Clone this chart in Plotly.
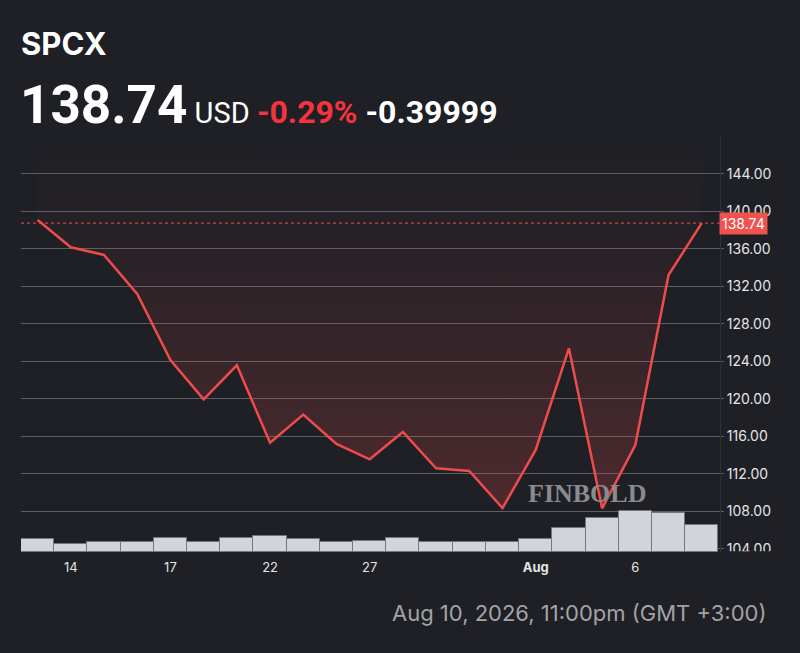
import plotly.graph_objects as go

# ---------------- data ----------------
dates = ["Jul 13", "Jul 14", "Jul 15", "Jul 16", "Jul 17", "Jul 20", "Jul 21",
         "Jul 22", "Jul 23", "Jul 24", "Jul 27", "Jul 28", "Jul 29", "Jul 30",
         "Jul 31", "Aug 3", "Aug 4", "Aug 5", "Aug 6", "Aug 7", "Aug 10"]
prices = [139.07, 136.16, 135.34, 131.18, 124.14, 119.95, 123.57, 115.32, 118.31,
          115.18, 113.55, 116.46, 112.59, 112.30, 108.35, 114.54, 125.39, 108.32,
          115.07, 133.20, 138.74]
volumes = [1270, 830, 1030, 1030, 1400, 1030, 1400, 1570, 1300, 1030, 1100, 1370,
           970, 970, 1030, 1270, 2370, 3400, 4130, 3930, 2730]  # thousands
tick_dates = ["Jul 14", "Jul 17", "Jul 22", "Jul 27", "Aug 3", "Aug 6"]
tick_labels = ["14", "17", "22", "27", "<b>Aug</b>", "6"]
y_ticks = [104, 108, 112, 116, 120, 124, 128, 132, 136, 140, 144]

ticker = "SPCX"
last_price = prices[-1]
pct_change = "-0.29%"
abs_change = "-0.39999"
timestamp = "Aug 10, 2026, 11:00pm (GMT +3:00)"

# ---------------- layout geometry ----------------
W, H = 800, 653
L, R, T, B = 21, 720, 136, 552
Y_RANGE = [103.66, 148.03]
X_RANGE = [-0.5, 20.55]
V_RANGE = [0, 41600]

def px(x):
    return (x - L) / (R - L)

def py(y):
    return (B - y) / (B - T)

BG = "#1e2025"
RED = "#f04b4c"
GRID = "#5c5e63"

fig = go.Figure()

# volume bars (secondary axis)
fig.add_trace(go.Bar(
    x=dates, y=volumes, yaxis="y2",
    marker=dict(color="#d3d4da", line=dict(color="#75777d", width=1)),
    hoverinfo="skip", showlegend=False,
))

# top boundary for fill (plot top)
fig.add_trace(go.Scatter(
    x=dates, y=[Y_RANGE[1]] * len(dates), mode="lines",
    line=dict(width=0, color="rgba(0,0,0,0)"), hoverinfo="skip", showlegend=False,
))

# price line with gradient fill above it
fig.add_trace(go.Scatter(
    x=dates, y=prices, mode="lines",
    line=dict(color=RED, width=2.5),
    fill="tonexty",
    fillgradient=dict(type="vertical",
                      colorscale=[[0, "rgba(240,75,76,0.24)"], [0.75, "rgba(240,75,76,0.04)"],
                                  [1, "rgba(240,75,76,0.0)"]],
                      start=106, stop=Y_RANGE[1]),
    hoverinfo="skip", showlegend=False,
))

annotations = [
    dict(text="<b>" + ticker + "</b>", xref="paper", yref="paper",
         x=px(19), y=py(44), xanchor="left", yanchor="middle", showarrow=False,
         font=dict(family="Inter", size=31, color="#ffffff", weight=800)),
    dict(text=("<span style='font-size:53px'><b>%s</b></span>"
               "<span style='font-size:29px'> USD </span>"
               "<span style='color:#f5333d'><b>%s</b></span>"
               "<b> %s</b>") % (f"{last_price:.2f}", pct_change, abs_change),
         xref="paper", yref="paper",
         x=px(18), y=py(105), xanchor="left", yanchor="middle", showarrow=False,
         font=dict(family="Roboto", size=32, color="#ffffff")),
    dict(text=f"{last_price:.2f}", xref="paper", yref="y", x=px(719), y=last_price,
         xanchor="left", yanchor="middle", showarrow=False,
         bgcolor="#ef5350", borderpad=2,
         font=dict(family="Inter", size=14, color="#ffffff")),
    dict(text="<b>FINBOLD</b>", xref="paper", yref="paper", x=px(587), y=py(493),
         xanchor="center", yanchor="middle", showarrow=False,
         font=dict(family="Liberation Serif", size=26, color="#8a8b8e")),
    dict(text=timestamp, xref="paper", yref="paper", x=px(768), y=py(613),
         xanchor="right", yanchor="middle", showarrow=False,
         font=dict(family="Inter", size=22, color="#a3a3a6")),
]

shapes = [
    dict(type="line", xref="paper", yref="y", x0=0, x1=1, y0=last_price, y1=last_price,
         line=dict(color=RED, width=1, dash="dot"), layer="below"),
    dict(type="rect", xref="paper", yref="paper", x0=px(722), x1=px(800),
         y0=py(560), y1=py(551.3), fillcolor=BG, line=dict(width=0), layer="above"),
]

fig.update_layout(
    width=W, height=H,
    paper_bgcolor=BG, plot_bgcolor=BG,
    margin=dict(l=L, r=W - R, t=T, b=H - B, pad=0),
    bargap=0,
    showlegend=False,
    xaxis=dict(type="category", range=X_RANGE, tickmode="array",
               tickvals=tick_dates, ticktext=tick_labels,
               showgrid=False, zeroline=False, showline=False, ticks="",
               ticklabelstandoff=6,
               tickfont=dict(family="Inter", size=13, color="#e4e4e6")),
    yaxis=dict(side="right", range=Y_RANGE, tickmode="array", tickvals=y_ticks,
               ticktext=[f"{v:.2f}" for v in y_ticks],
               showgrid=True, gridcolor=GRID, gridwidth=1, zeroline=False,
               showline=True, linecolor="#2e3136", linewidth=1,
               ticks="outside", ticklen=3, tickcolor=GRID,
               tickfont=dict(family="Inter", size=14, color="#e4e4e6")),
    yaxis2=dict(overlaying="y", range=V_RANGE, showgrid=False, showticklabels=False,
                zeroline=False, showline=False),
    annotations=annotations,
    shapes=shapes,
)

fig.write_html("out.html", config={"displayModeBar": False},
               post_script="document.body.style.margin='0';document.body.style.background='%s';" % BG)
